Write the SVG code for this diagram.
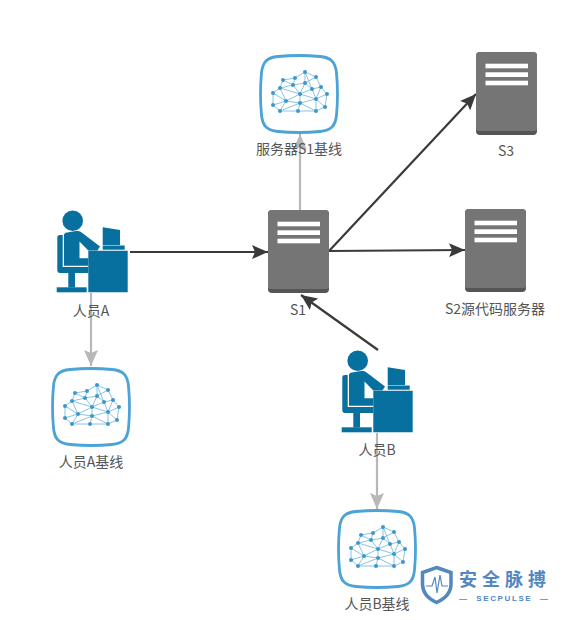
<svg xmlns="http://www.w3.org/2000/svg" width="570" height="620" viewBox="0 0 570 620">
<style>
text{font-family:"Noto Sans CJK SC","Liberation Sans",sans-serif;font-size:14px;fill:#555;text-anchor:middle}
.dark{fill:none;stroke:#3a3a3a;stroke-width:2.2}
.light{fill:none;stroke:#b8b8b8;stroke-width:2.2}
.badge{fill:#fff;stroke:#4ba3d6;stroke-width:2.8}
.net circle{fill:#3f97c9;r:2px}
.p{fill:#07709f}
.srv{fill:#757575}
.srvb{fill:#555}
.srvl{fill:#fff}
.logo{fill:#5287c0}
</style>
<defs>
<marker id="ad" markerUnits="userSpaceOnUse" markerWidth="18" markerHeight="14" refX="16" refY="7" orient="auto"><path d="M0 0L16 7L0 14L3 7Z" fill="#3a3a3a"/></marker>
<marker id="al" markerUnits="userSpaceOnUse" markerWidth="18" markerHeight="14" refX="16" refY="7" orient="auto"><path d="M0 0L16 7L0 14L3 7Z" fill="#b8b8b8"/></marker>
<g id="cloud">
<path class="badge" d="M-21 -37.500Q0 -39.500 21 -37.500C32 -36.500 36.500 -32 37.500 -21Q39.500 0 37.500 21C36.500 32 32 36.500 21 37.500Q0 39.500 -21 37.500C-32 36.500 -36.500 32 -37.500 21Q-39.500 0 -37.500 -21C-36.500 -32 -32 -36.500 -21 -37.500Z"/>
<g class="net">
<path d="M6-22L17-17M6-22L-4-16M-4-16L-16-14M-16-14L-19-6M-19-6L-26-1M-26-1L-26 11M-26 11L-19 17M-19 17L-1 17M-1 17L17 17M17 17L26 13M26 13L28 0M28 0L22-7M22-7L17-17M6-22L6-11M17-17L6-11M6-11L-6-9M-6-9L-4-16M-6-9L-16-14M-6-9L-19-6M-19-6L1 0M-6-9L1 0M6-11L1 0M6-11L13-5M13-5L1 0M13-5L22-7M13-5L17 5M22-7L17 5M28 0L17 5M1 0L17 5M1 0L-13 7M-19-6L-13 7M-26-1L-13 7M-26 11L-13 7M-13 7L-19 17M-13 7L1 9M1 0L1 9M17 5L1 9M17 5L26 13M17 5L17 17M1 9L17 17M1 9L-1 17M1 9L-19 17M6-22L13-5" stroke="#7dbde0" stroke-width=".9" fill="none"/>
<circle cx="6" cy="-22"/><circle cx="17" cy="-17"/><circle cx="-4" cy="-16"/><circle cx="-16" cy="-14"/><circle cx="-6" cy="-9"/><circle cx="6" cy="-11"/><circle cx="22" cy="-7"/><circle cx="13" cy="-5"/><circle cx="-19" cy="-6"/><circle cx="-26" cy="-1"/><circle cx="1" cy="0"/><circle cx="28" cy="0"/><circle cx="17" cy="5"/><circle cx="-13" cy="7"/><circle cx="-26" cy="11"/><circle cx="1" cy="9"/><circle cx="26" cy="13"/><circle cx="-19" cy="17"/><circle cx="-1" cy="17"/><circle cx="17" cy="17"/>
</g>
</g>
<g id="person">
<circle class="p" cx="72.700" cy="220.700" r="10.300"/>
<path class="p" d="M64 235Q64 233 67 232.500L76 231Q79 230.500 81 232L100 246.500L97.500 250.500H88.300V265.700H64ZM79.500 241.500V258.300H88.300V250.500Z" fill-rule="evenodd"/>
<path class="p" d="M57.300 237Q57.300 235 60 235H62.700V267H88.300V273H75V287.500H68.300V273H60Q57.300 273 57.300 270Z"/>
<path class="p" d="M56.700 287.300H86.700V292.300H56.700Z"/>
<path class="p" d="M88.300 250.700H127.700V292.300H88.300Z"/>
<path class="p" d="M102.700 227.300L120 230V245H102.700Z"/>
<path class="p" d="M102.700 245.500H124.700V249.700H102.700Z"/>
</g>
<g id="server">
<rect class="srvb" x="0" y="0" width="61" height="83" rx="4"/>
<path class="srv" d="M4 0H57Q61 0 61 4V77Q61 79 58 79H3Q0 79 0 77V4Q0 0 4 0Z"/>
<rect class="srvl" x="9.500" y="11.700" width="42.500" height="4.600"/>
<rect class="srvl" x="9.500" y="20.300" width="42.500" height="4.700"/>
<rect class="srvl" x="9.500" y="28.700" width="42.500" height="4.600"/>
</g>
</defs>
<rect width="570" height="620" fill="#fff"/>
<g id="connectors">
<path class="dark" marker-end="url(#ad)" d="M130 252H268"/>
<path class="dark" marker-end="url(#ad)" d="M329 251L476 94"/>
<path class="dark" marker-end="url(#ad)" d="M329 251L465 250"/>
<path class="dark" marker-end="url(#ad)" d="M378 350L301 295"/>
<path class="light" marker-end="url(#al)" d="M300 210V134"/>
<path class="light" marker-end="url(#al)" d="M91 293V366"/>
<path class="light" marker-end="url(#al)" d="M377 433V509"/>
</g>
<g id="s1-baseline"><use href="#cloud" x="299" y="94"/><text x="299" y="154">服务器S1基线</text></g>
<g id="s3"><use href="#server" x="476" y="52"/><text x="506" y="156">S3</text></g>
<g id="s1"><use href="#server" x="268" y="210"/><text x="298" y="315">S1</text></g>
<g id="s2"><use href="#server" x="465" y="209"/><text x="495" y="314">S2源代码服务器</text></g>
<g id="person-a"><use href="#person"/><text x="91" y="316">人员A</text></g>
<g id="person-b"><use href="#person" x="285" y="140"/><text x="377" y="455">人员B</text></g>
<g id="a-baseline"><use href="#cloud" x="91" y="407"/><text x="91" y="467">人员A基线</text></g>
<g id="b-baseline"><use href="#cloud" x="377" y="549"/><text x="377" y="609">人员B基线</text></g>
<g id="logo">
<path d="M436.500 567.500L451 572.500V584Q451 596 436.500 602.500Q422.500 596 422.500 584V572.500Z" fill="none" stroke="#5287c0" stroke-width="3.500"/>
<path d="M426 586H432L435 577L437 593L440 575L442 586H448" fill="none" stroke="#5287c0" stroke-width="1.200"/>
<text class="logo" x="505" y="586" style="font-size:18px;font-weight:700;fill:#5287c0;letter-spacing:5px">安全脉搏</text>
<text class="logo" x="503.500" y="601" style="font-family:'Liberation Sans',sans-serif;font-size:8px;font-weight:700;fill:#5287c0" textLength="89" lengthAdjust="spacing" xml:space="preserve">—  SECPULSE  —</text>
</g>
</svg>
